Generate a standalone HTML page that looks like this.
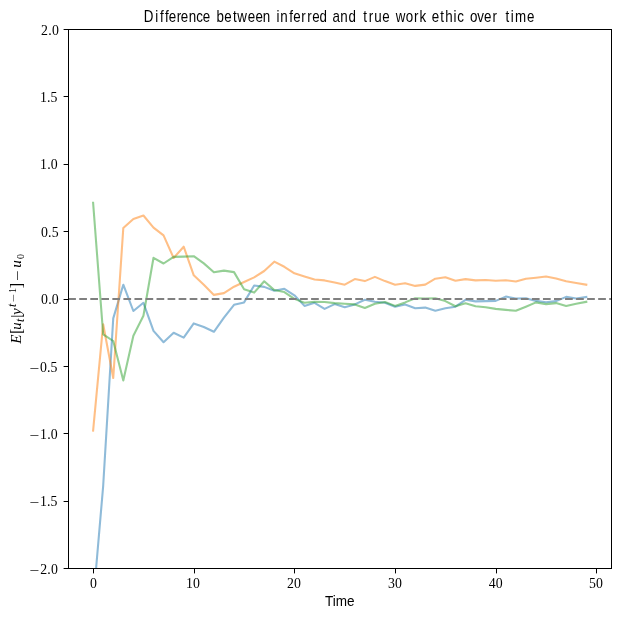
<!DOCTYPE html>
<html><head><meta charset="utf-8"><title>Difference between inferred and true work ethic over time</title>
<style>
html,body{margin:0;padding:0;background:#fff;}
svg{display:block;}
.tk{font-family:"Liberation Serif",serif;font-size:13.8px;fill:#000;}
.ss{font-family:"Liberation Sans",sans-serif;fill:#000;}
.mi{font-family:"Liberation Serif",serif;font-style:italic;fill:#000;}
.mr{font-family:"Liberation Serif",serif;fill:#000;}
</style></head><body>
<svg width="620" height="618" viewBox="0 0 620 618">
<rect width="620" height="618" fill="#fff"/>
<defs><clipPath id="c"><rect x="68.5" y="29.5" width="542.5" height="539"/></clipPath></defs>

<g clip-path="url(#c)" fill="none" stroke-width="2.083" stroke-linejoin="round" stroke-linecap="square">
<polyline stroke="#1f77b4" stroke-opacity="0.5" points="93.11,603.00 103.17,486.00 113.24,318.40 123.30,284.70 133.37,311.00 143.43,302.80 153.50,330.90 163.56,342.20 173.63,332.80 183.69,337.60 193.76,323.40 203.82,327.00 213.89,331.80 223.95,317.70 234.02,304.80 244.08,302.40 254.15,285.50 264.21,286.90 274.28,290.80 284.34,288.80 294.41,295.30 304.47,305.90 314.54,302.80 324.60,308.90 334.67,304.10 344.73,307.30 354.80,304.40 364.86,299.80 374.93,301.80 384.99,302.70 395.06,306.80 405.12,304.60 415.19,308.30 425.25,307.60 435.32,310.80 445.38,308.30 455.45,306.70 465.51,299.80 475.58,301.40 485.64,301.10 495.71,300.90 505.77,296.60 515.84,298.50 525.90,298.20 535.97,300.90 546.03,302.20 556.10,301.10 566.16,296.90 576.23,298.50 586.29,297.00"/>
<polyline stroke="#ff7f0e" stroke-opacity="0.5" points="93.11,430.60 103.17,324.20 113.24,378.00 123.30,228.00 133.37,218.90 143.43,215.50 153.50,227.60 163.56,235.40 173.63,258.00 183.69,246.70 193.76,275.30 203.82,284.70 213.89,294.90 223.95,293.10 234.02,286.70 244.08,282.00 254.15,277.40 264.21,271.00 274.28,261.65 284.34,266.80 294.41,273.30 304.47,276.50 314.54,279.50 324.60,280.40 334.67,282.40 344.73,284.70 354.80,279.10 364.86,281.10 374.93,276.90 384.99,281.10 395.06,284.70 405.12,283.30 415.19,285.90 425.25,284.60 435.32,278.70 445.38,277.20 455.45,280.80 465.51,279.10 475.58,280.40 485.64,280.00 495.71,280.70 505.77,280.20 515.84,281.50 525.90,278.70 535.97,277.70 546.03,276.50 556.10,278.50 566.16,281.30 576.23,283.00 586.29,284.70"/>
<polyline stroke="#2ca02c" stroke-opacity="0.5" points="93.11,202.80 103.17,334.30 113.24,341.00 123.30,380.50 133.37,335.80 143.43,315.80 153.50,257.80 163.56,263.50 173.63,256.90 183.69,256.60 193.76,256.20 203.82,263.40 213.89,272.30 223.95,270.60 234.02,272.10 244.08,289.30 254.15,292.60 264.21,281.30 274.28,290.10 284.34,292.10 294.41,298.90 304.47,302.80 314.54,301.80 324.60,302.00 334.67,303.10 344.73,303.70 354.80,304.40 364.86,308.00 374.93,303.70 384.99,302.00 395.06,305.90 405.12,302.40 415.19,298.20 425.25,298.50 435.32,298.30 445.38,301.10 455.45,306.30 465.51,303.30 475.58,306.30 485.64,307.20 495.71,308.90 505.77,309.90 515.84,310.80 525.90,306.70 535.97,302.40 546.03,304.10 556.10,303.10 566.16,305.90 576.23,303.70 586.29,301.80"/>
<line x1="68.2" x2="611" y1="299" y2="299" stroke="#808080" stroke-linecap="butt" stroke-dasharray="7.708 3.333"/>
</g>
<g stroke="#000" stroke-width="1.1" fill="none" shape-rendering="crispEdges">
<rect x="68.5" y="29.5" width="543" height="539"/>
</g>
<g fill="#000">
<rect x="93" y="569" width="1" height="4.4"/>
<rect x="194" y="569" width="1" height="4.4"/>
<rect x="294" y="569" width="1" height="4.4"/>
<rect x="395" y="569" width="1" height="4.4"/>
<rect x="496" y="569" width="1" height="4.4"/>
<rect x="596" y="569" width="1" height="4.4"/>
<rect x="63.6" y="29" width="4.4" height="1"/>
<rect x="63.6" y="96" width="4.4" height="1"/>
<rect x="63.6" y="164" width="4.4" height="1"/>
<rect x="63.6" y="231" width="4.4" height="1"/>
<rect x="63.6" y="299" width="4.4" height="1"/>
<rect x="63.6" y="366" width="4.4" height="1"/>
<rect x="63.6" y="433" width="4.4" height="1"/>
<rect x="63.6" y="501" width="4.4" height="1"/>
<rect x="63.6" y="568" width="4.4" height="1"/>
</g>
<text class="tk" x="93.55" y="587.9" text-anchor="middle">0</text>
<text class="tk" x="193.00" y="587.9" text-anchor="middle">10</text>
<text class="tk" x="293.95" y="587.9" text-anchor="middle">20</text>
<text class="tk" x="395.00" y="587.9" text-anchor="middle">30</text>
<text class="tk" x="495.75" y="587.9" text-anchor="middle">40</text>
<text class="tk" x="596.00" y="587.9" text-anchor="middle">50</text>
<text class="tk" x="41.10 48.30 51.90" y="34.7">2.0</text>
<text class="tk" x="40.10 47.06 50.54" y="101.7">1.5</text>
<text class="tk" x="40.00 47.20 50.80" y="168.7">1.0</text>
<text class="tk" x="41.00 48.12 51.68" y="236.7">0.5</text>
<text class="tk" x="41.00 48.20 51.80" y="303.7">0.0</text>
<text class="tk"><tspan x="29.4" y="372.7" textLength="9.8" lengthAdjust="spacingAndGlyphs">−</tspan><tspan x="40.10 47.06 50.54" y="371.7">0.5</tspan></text>
<text class="tk"><tspan x="29.4" y="439.7" textLength="9.8" lengthAdjust="spacingAndGlyphs">−</tspan><tspan x="40.00 47.20 50.80" y="438.7">1.0</tspan></text>
<text class="tk"><tspan x="29.4" y="506.7" textLength="9.8" lengthAdjust="spacingAndGlyphs">−</tspan><tspan x="40.10 47.06 50.54" y="505.7">1.5</tspan></text>
<text class="tk"><tspan x="29.4" y="574.7" textLength="9.8" lengthAdjust="spacingAndGlyphs">−</tspan><tspan x="40.20 47.32 50.88" y="573.7">2.0</tspan></text>
<text class="ss" style="font-kerning:none;font-variant-ligatures:none" font-size="15.9px" transform="scale(0.84,1)" y="21.7" x="171.19 184.96 190.41 196.54 200.89 210.29 215.24 224.73 233.69 241.49 248.63 257.66 266.84 277.25 282.52 294.94 304.05 312.77 319.91 329.07 333.60 344.45 348.99 358.74 365.71 371.67 380.28 387.42 395.78 405.21 415.04 422.19 432.43 438.86 445.65 454.94 462.08 471.22 483.14 492.91 499.35 506.49 514.11 524.16 530.07 539.90 544.41 551.55 559.51 568.29 576.31 586.24 593.39 601.90 608.12 613.20 627.32">Difference between inferred and true work ethic over time</text>
<text class="ss" font-size="14.9px" x="325.0" y="605.8" textLength="29.6" lengthAdjust="spacingAndGlyphs">Time</text>
<text transform="translate(21.3,343.5) rotate(-90)" fill="#000">
<tspan class="mi" font-size="14.2px" x="-0.3" y="0" textLength="9.2" lengthAdjust="spacingAndGlyphs">E</tspan><tspan class="mr" font-size="16.2px" x="9.5" y="0.5">[</tspan><tspan class="mi" font-size="14.2px" x="13.8" y="0" textLength="7.4" lengthAdjust="spacingAndGlyphs">u</tspan><tspan class="mi" font-size="12px" x="21.5" y="2.8">t</tspan><tspan class="mr" font-size="15.6px" x="25.7" y="-0.7">|</tspan><tspan class="mi" font-size="14.2px" x="28.6" y="0" textLength="6.8" lengthAdjust="spacingAndGlyphs">y</tspan><tspan class="mi" font-size="12px" x="36.6" y="-5.6">t</tspan><tspan class="mr" font-size="10px" x="41.5" y="-4.6" textLength="8.0" lengthAdjust="spacingAndGlyphs">−</tspan><tspan class="mr" font-size="10px" x="50.6" y="-5.6">1</tspan><tspan class="mr" font-size="16.2px" x="55.3" y="0.5">]</tspan><tspan class="mr" font-size="14.2px" x="62.3" y="0.9" textLength="10.6" lengthAdjust="spacingAndGlyphs">−</tspan><tspan class="mi" font-size="14.2px" x="75.8" y="0" textLength="7.6" lengthAdjust="spacingAndGlyphs">u</tspan><tspan class="mr" font-size="10px" x="84.4" y="2.8">0</tspan></text>
</svg></body></html>
